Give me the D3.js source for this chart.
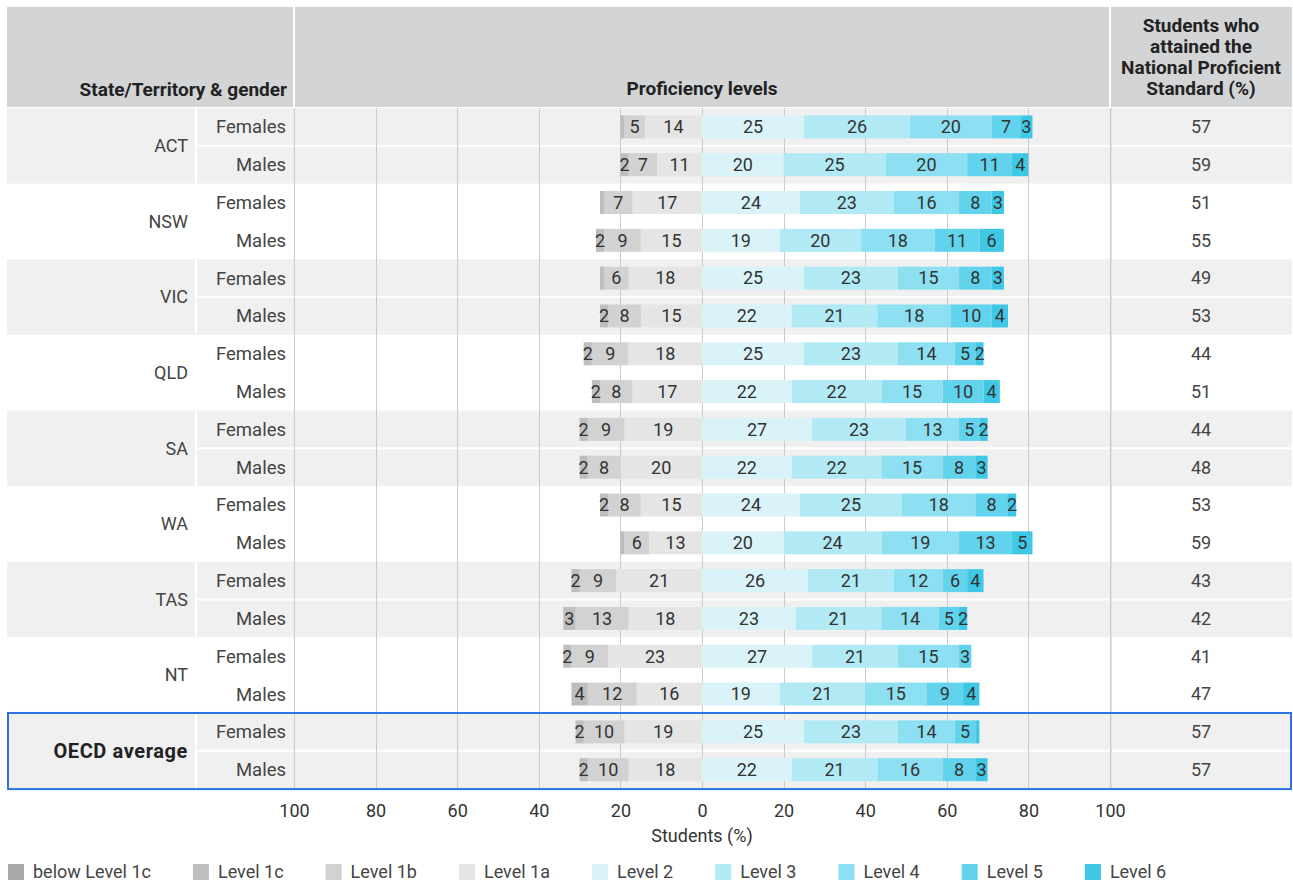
<!DOCTYPE html>
<html>
<head>
<meta charset="utf-8">
<script src="https://cdn.jsdelivr.net/npm/d3@7"></script>
<style>
  body { margin: 0; background: #fff; }
  svg { display: block; font-family: Roboto, "Noto Sans", sans-serif; }
</style>
</head>
<body>
<svg id="chart" width="1293" height="883"></svg>
<script>
// ---- data ----
const groups = ["ACT", "NSW", "VIC", "QLD", "SA", "WA", "TAS", "NT", "OECD average"];
const genders = ["Females", "Males"];
const levelNames = ["below Level 1c", "Level 1c", "Level 1b", "Level 1a", "Level 2", "Level 3", "Level 4", "Level 5", "Level 6"];
const levelColors = ["#a9a9a9", "#bebebe", "#d2d2d2", "#e5e5e5", "#d9f3f9", "#b1e9f5", "#8ddff2", "#62d3ec", "#3ec8e6"];

// one value per row: ACT F, ACT M, NSW F, NSW M, ... OECD F, OECD M
const belowLevel1c = [0, 0, 0, 0, 0, 0, 0, 0, 0, 0, 0, 0, 0, 0, 0, 0, 0, 0];
const level1c = [1, 2, 1, 2, 1, 2, 2, 2, 2, 2, 2, 1, 2, 3, 2, 4, 2, 2];
const level1b = [5, 7, 7, 9, 6, 8, 9, 8, 9, 8, 8, 6, 9, 13, 9, 12, 10, 10];
const level1a = [14, 11, 17, 15, 18, 15, 18, 17, 19, 20, 15, 13, 21, 18, 23, 16, 19, 18];
const level2 = [25, 20, 24, 19, 25, 22, 25, 22, 27, 22, 24, 20, 26, 23, 27, 19, 25, 22];
const level3 = [26, 25, 23, 20, 23, 21, 23, 22, 23, 22, 25, 24, 21, 21, 21, 21, 23, 21];
const level4 = [20, 20, 16, 18, 15, 18, 14, 15, 13, 15, 18, 19, 12, 14, 15, 15, 14, 16];
const level5 = [7, 11, 8, 11, 8, 10, 5, 10, 5, 8, 8, 13, 6, 5, 3, 9, 5, 8];
const level6 = [3, 4, 3, 6, 3, 4, 2, 4, 2, 3, 2, 5, 4, 2, 0, 4, 1, 3];
const proficientStandard = [57, 59, 51, 55, 49, 53, 44, 51, 44, 48, 53, 59, 43, 42, 41, 47, 57, 57];
const axisTicks = [-100, -80, -60, -40, -20, 0, 20, 40, 60, 80, 100];
const rightHeader = ["Students who", "attained the", "National Proficient", "Standard (%)"];

const series = [belowLevel1c, level1c, level1b, level1a, level2, level3, level4, level5, level6];

// ---- layout ----
const left = 7, right = 1292;
const headTop = 7, headBottom = 107;
const rowsTop = 108, rowsBottom = 788.6;
const stateRight = 195, genderRight = 293;
const midLeft = 294, midRight = 1110;

const rows = [];
groups.forEach((g, gi) => genders.forEach((s, si) => rows.push({ group: g, gi, gender: s, idx: gi * 2 + si })));

const x = d3.scaleLinear().domain([-100, 100]).range([midLeft, midRight]);
const y = d3.scaleBand().domain(rows.map(r => r.idx)).range([rowsTop, rowsBottom]);
const barH = 23;

const svg = d3.select("#chart");
const textColor = "#444";

// header band
const head = svg.append("g");
head.append("rect").attr("x", left).attr("y", headTop).attr("width", genderRight - left).attr("height", headBottom - headTop).attr("fill", "#d3d4d6");
head.append("rect").attr("x", midLeft + 1).attr("y", headTop).attr("width", midRight - midLeft - 2).attr("height", headBottom - headTop).attr("fill", "#d3d4d6");
head.append("rect").attr("x", midRight + 1).attr("y", headTop).attr("width", right - midRight - 1).attr("height", headBottom - headTop).attr("fill", "#d3d4d6");

head.append("text").attr("x", 287).attr("y", 96).attr("text-anchor", "end")
  .attr("font-size", 19).attr("font-weight", "bold").attr("fill", "#222").text("State/Territory & gender");
head.append("text").attr("x", x(0)).attr("y", 95).attr("text-anchor", "middle")
  .attr("font-size", 19).attr("font-weight", "bold").attr("fill", "#222").text("Proficiency levels");
head.selectAll("text.rh").data(rightHeader).join("text").attr("class", "rh")
  .attr("x", 1201).attr("y", (d, i) => 32 + i * 21).attr("text-anchor", "middle")
  .attr("font-size", 19).attr("font-weight", "bold").attr("fill", "#222").text(d => d);

// group backgrounds
const groupH = (rowsBottom - rowsTop) / groups.length;
const bg = svg.append("g");
groups.forEach((g, gi) => {
  const gy = rowsTop + gi * groupH;
  if (gi % 2 === 0) {
    bg.append("rect").attr("x", left).attr("y", gy).attr("width", right - left).attr("height", groupH).attr("fill", "#f0f0f0");
    bg.append("rect").attr("x", stateRight).attr("y", gy).attr("width", 2).attr("height", groupH).attr("fill", "#fff");
    bg.append("rect").attr("x", stateRight + 2).attr("y", gy + groupH / 2 - 1).attr("width", right - stateRight - 2).attr("height", 2).attr("fill", "#fff");
  }
});

// gridlines
svg.append("g").selectAll("line").data(axisTicks).join("line")
  .attr("x1", d => Math.round(x(d)) + 0.5).attr("x2", d => Math.round(x(d)) + 0.5)
  .attr("y1", rowsTop).attr("y2", rowsBottom)
  .attr("stroke", "#cbcbcb").attr("stroke-width", 1);
svg.append("line").attr("x1", midRight + 1.5).attr("x2", midRight + 1.5).attr("y1", rowsTop).attr("y2", rowsBottom)
  .attr("stroke", "#e2e2e2");

// stacked segments: lower levels extend left of zero, Level 2 and above to the right
const segments = [];
rows.forEach(r => {
  let cum = 0;
  for (let li = 3; li >= 0; li--) {
    const v = series[li][r.idx];
    segments.push({ row: r, level: li, v, x0: cum - v, x1: cum });
    cum -= v;
  }
  cum = 0;
  for (let li = 4; li < series.length; li++) {
    const v = series[li][r.idx];
    segments.push({ row: r, level: li, v, x0: cum, x1: cum + v });
    cum += v;
  }
});
const drawn = segments.filter(s => s.v > 0);

const bars = svg.append("g");
bars.selectAll("rect").data(drawn).join("rect")
  .attr("x", d => x(d.x0))
  .attr("width", d => x(d.x1) - x(d.x0))
  .attr("y", d => y(d.row.idx) + (y.bandwidth() - barH) / 2)
  .attr("height", barH)
  .attr("fill", d => levelColors[d.level]);

bars.selectAll("text").data(drawn.filter(d => d.v >= 2)).join("text")
  .attr("x", d => (x(d.x0) + x(d.x1)) / 2)
  .attr("y", d => y(d.row.idx) + y.bandwidth() / 2)
  .attr("dy", "0.35em")
  .attr("text-anchor", "middle")
  .attr("font-size", 18)
  .attr("fill", "#333")
  .text(d => d.v);

// row labels
const labels = svg.append("g");
groups.forEach((g, gi) => {
  const isOecd = g === "OECD average";
  labels.append("text")
    .attr("x", 188).attr("y", rowsTop + gi * groupH + groupH / 2).attr("dy", "0.35em")
    .attr("text-anchor", "end").attr("font-size", isOecd ? 20 : 18)
    .attr("letter-spacing", isOecd ? 0.6 : 0)
    .attr("font-weight", isOecd ? "bold" : "normal")
    .attr("fill", isOecd ? "#222" : textColor).text(g);
});
labels.selectAll("text.gender").data(rows).join("text").attr("class", "gender")
  .attr("x", 286).attr("y", r => y(r.idx) + y.bandwidth() / 2).attr("dy", "0.35em")
  .attr("text-anchor", "end").attr("font-size", 18.5).attr("fill", textColor).text(r => r.gender);
labels.selectAll("text.nps").data(rows).join("text").attr("class", "nps")
  .attr("x", 1201).attr("y", r => y(r.idx) + y.bandwidth() / 2).attr("dy", "0.35em")
  .attr("text-anchor", "middle").attr("font-size", 18).attr("fill", textColor).text(r => proficientStandard[r.idx]);

// OECD highlight box
const oy = y(rows.find(r => r.group === "OECD average").idx);
svg.append("rect").attr("x", left + 1).attr("y", oy).attr("width", right - left - 2).attr("height", rowsBottom - oy + 0.5)
  .attr("fill", "none").attr("stroke", "#2a72e5").attr("stroke-width", 2);

// x axis
const axis = svg.append("g").attr("transform", `translate(0,${804})`)
  .call(d3.axisBottom(x).tickValues(axisTicks).tickFormat(d => Math.abs(d)).tickSize(0).tickPadding(0));
axis.select(".domain").remove();
axis.selectAll("text").attr("font-size", 18).attr("font-family", "Roboto, 'Noto Sans', sans-serif").attr("fill", "#333");
svg.append("text").attr("x", x(0)).attr("y", 842).attr("text-anchor", "middle")
  .attr("font-size", 18).attr("fill", "#333").text("Students (%)");

// legend
const legend = svg.append("g");
let lx = 8;
levelNames.forEach((name, i) => {
  legend.append("rect").attr("x", lx).attr("y", 864).attr("width", 16).attr("height", 16).attr("fill", levelColors[i]);
  const t = legend.append("text").attr("x", lx + 25).attr("y", 878).attr("font-size", 18).attr("fill", textColor).text(name);
  lx += 25 + t.node().getComputedTextLength() + 42;
});
</script>
</body>
</html>
